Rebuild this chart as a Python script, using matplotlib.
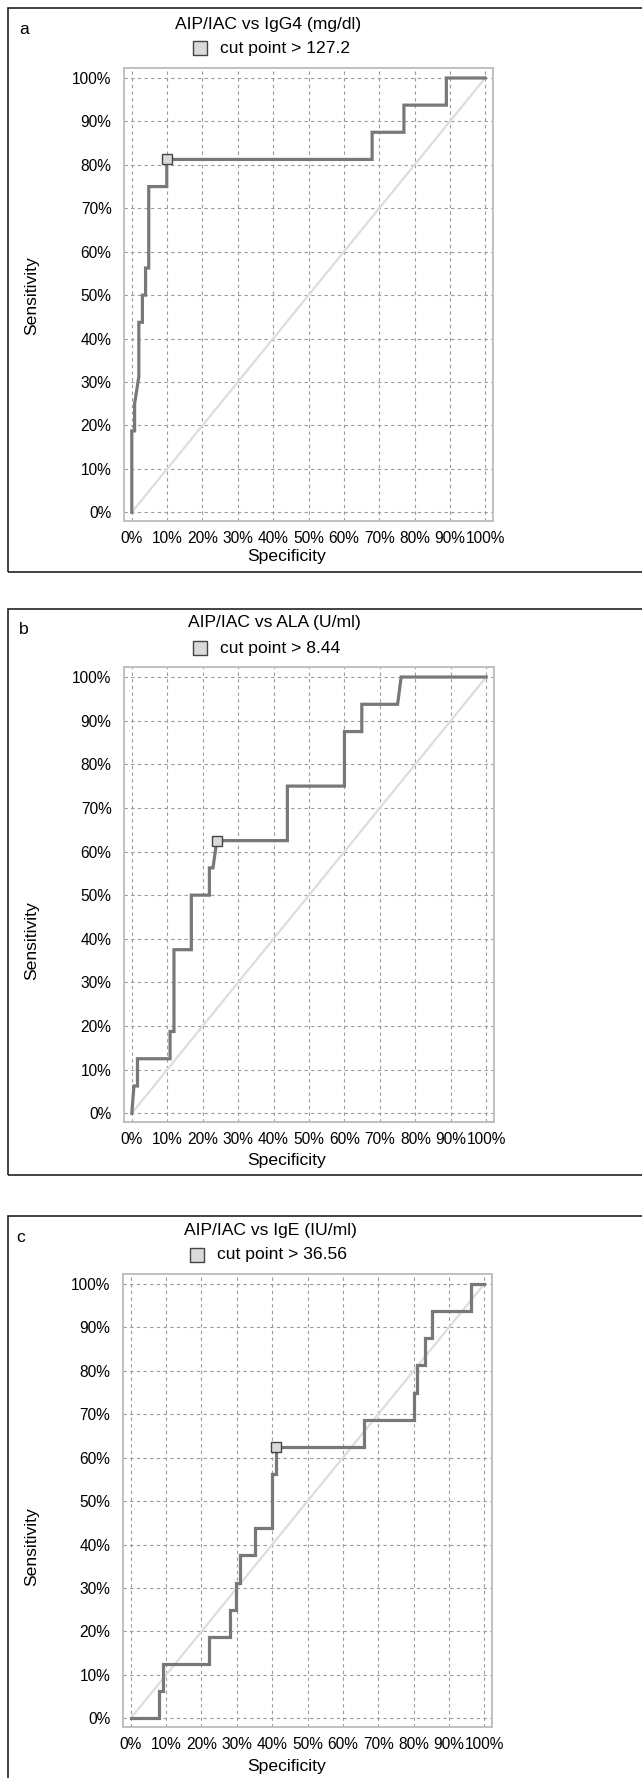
import matplotlib
matplotlib.use("Agg")
import matplotlib.pyplot as plt
from matplotlib.patches import Rectangle
from matplotlib.lines import Line2D

plt.rcParams['font.family'] = ['Liberation Sans', 'DejaVu Sans']

W, H = 642, 1778
DPI = 100

# ---- data (percent) ----
titles = ["AIP/IAC vs IgG4 (mg/dl)", "AIP/IAC vs ALA (U/ml)", "AIP/IAC vs IgE (IU/ml)"]
cut_labels = ["cut point > 127.2", "cut point > 8.44", "cut point > 36.56"]
letters = ["a", "b", "c"]

a_x = [0, 0, 0.8, 0.8, 2.0, 2.0, 3.0, 3.0, 3.9, 3.9, 4.8, 4.8, 9.9, 9.9, 68, 68, 77, 77, 89, 89, 100]
a_y = [0, 18.75, 18.75, 25, 31.25, 43.75, 43.75, 50, 50, 56.25, 56.25, 75, 75, 81.25, 81.25, 87.5, 87.5, 93.75, 93.75, 100, 100]
a_cut = (9.9, 81.25)

b_x = [0, 0.6, 1.6, 1.6, 10.8, 10.8, 11.9, 11.9, 16.8, 16.8, 21.9, 21.9, 22.9, 24.0, 43.9, 43.9, 60, 60, 64.9, 64.9, 75, 76, 100]
b_y = [0, 6.25, 6.25, 12.5, 12.5, 18.75, 18.75, 37.5, 37.5, 50, 50, 56.25, 56.25, 62.5, 62.5, 75, 75, 87.5, 87.5, 93.75, 93.75, 100, 100]
b_cut = (24.0, 62.5)

c_x = [0, 8.0, 8.0, 9.1, 9.1, 22.1, 22.1, 28.0, 28.0, 29.9, 29.9, 31.0, 31.0, 35.1, 35.1, 40.0, 40.0, 41.0, 41.0, 66.1, 66.1, 80.0, 80.0, 81.0, 81.0, 83.2, 83.2, 85.3, 85.3, 96.3, 96.3, 100]
c_y = [0, 0, 6.25, 6.25, 12.5, 12.5, 18.75, 18.75, 25, 25, 31.25, 31.25, 37.5, 37.5, 43.75, 43.75, 56.25, 56.25, 62.5, 62.5, 68.75, 68.75, 75, 75, 81.25, 81.25, 87.5, 87.5, 93.75, 93.75, 100, 100]
c_cut = (41.0, 62.5)

ticks = list(range(0, 101, 10))
tick_labels = [f"{t}%" for t in ticks]

curves = [(a_x, a_y, a_cut), (b_x, b_y, b_cut), (c_x, c_y, c_cut)]

# ---- layout (pixels from top-left) ----
axes_px = [(124, 68, 493, 521), (124, 667, 494, 1122), (123, 1274, 492, 1727)]
boxes_px = [(8, 8, 572), (8, 609, 1175), (8, 1216, 1800)]
title_px = [(268, 25), (274, 623), (271, 1230)]
legend_px = [(200, 48), (200, 648), (197, 1255)]
letter_px = [(24, 30), (24, 630), (21, 1237)]
ylabel_px = [(32, 296), (32, 941), (32, 1547)]
xlabel_px = [(287, 556), (287, 1160), (287, 1766)]

def fx(x):
    return x / W

def fy(y):
    return 1 - y / H

fig = plt.figure(figsize=(W / DPI, H / DPI), dpi=DPI)
fig.patch.set_facecolor("white")

FS = 12.6
TFS = 11.2
curve_color = "#787878"
for i in range(3):
    l, t, r, b = axes_px[i]
    ax = fig.add_axes([fx(l), fy(b), (r - l) / W, (b - t) / H])
    xs, ys, cut = curves[i]
    ax.plot([0, 100], [0, 100], color="#dddddd", lw=1.6, zorder=2)
    ax.plot(xs, ys, color=curve_color, lw=2.3, zorder=3, solid_joinstyle="miter")
    ax.plot([cut[0]], [cut[1]], marker="s", ms=7.5, mfc="#dadada", mec="#444444", mew=1.0, zorder=4, ls="none")
    ax.set_xlim(-2.2, 102.2)
    ax.set_ylim(-2.0, 102.3)
    ax.set_xticks(ticks)
    ax.set_xticklabels(tick_labels)
    ax.set_yticks(ticks)
    ax.set_yticklabels(tick_labels)
    ax.tick_params(length=0, labelsize=TFS, pad=7)
    ax.tick_params(axis="y", pad=9)
    ax.grid(True, color="#9a9a9a", lw=0.8, ls=(0, (3, 3)))
    ax.set_axisbelow(True)
    for s in ax.spines.values():
        s.set_color("#c0c0c0")
        s.set_linewidth(1.4)

    # outer box
    bx, bt, bb = boxes_px[i]
    fig.patches.append(Rectangle((fx(bx), fy(bb)), (700 - bx) / W, (bb - bt) / H,
                                 transform=fig.transFigure, fill=False,
                                 edgecolor="#222222", lw=1.2, zorder=0))

    fig.text(fx(title_px[i][0]), fy(title_px[i][1]), titles[i], ha="center", va="center", fontsize=FS)
    lx, ly = legend_px[i]
    fig.add_artist(Line2D([fx(lx)], [fy(ly)], marker="s", ms=9.5, mfc="#dadada", mec="#444444", mew=1.0,
                          transform=fig.transFigure, ls="none"))
    fig.text(fx(lx + 20), fy(ly), cut_labels[i], ha="left", va="center", fontsize=FS)
    fig.text(fx(letter_px[i][0]), fy(letter_px[i][1]), letters[i], ha="center", va="center", fontsize=FS)
    fig.text(fx(ylabel_px[i][0]), fy(ylabel_px[i][1]), "Sensitivity", ha="center", va="center",
             rotation=90, fontsize=FS)
    fig.text(fx(xlabel_px[i][0]), fy(xlabel_px[i][1]), "Specificity", ha="center", va="center", fontsize=FS)

fig.savefig("out.png", dpi=DPI)
